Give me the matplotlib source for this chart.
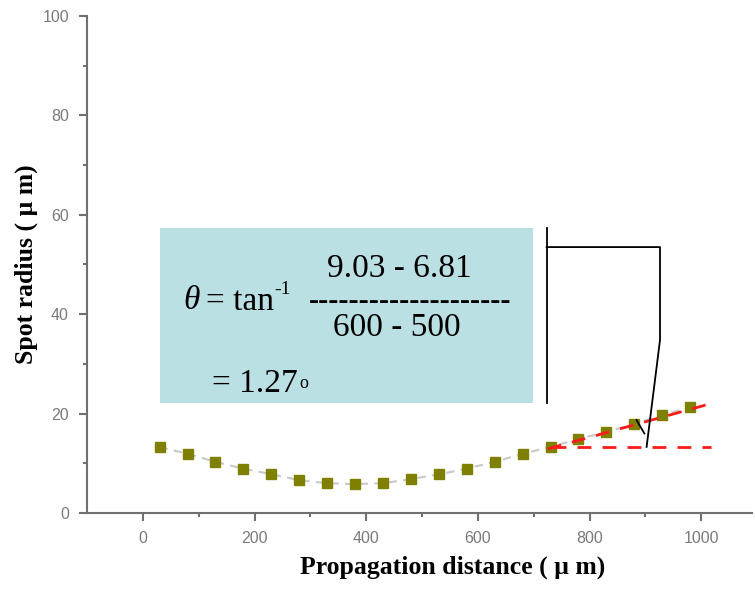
import numpy as np
import matplotlib
matplotlib.use('Agg')
import matplotlib.pyplot as plt

# datos
dist = [30, 80, 130, 180, 230, 280, 330, 380, 430, 480,
        530, 580, 630, 680, 730, 780, 830, 880, 930, 980]
radio = [13.3, 11.9, 10.3, 8.9, 7.8, 6.6, 6.0, 5.8, 6.0, 6.8,
         7.8, 8.9, 10.3, 11.9, 13.3, 14.9, 16.3, 17.9, 19.7, 21.3]

# rectas rojas del angulo
pend_x = [725, 1020]
pend_y = [12.9, 22.1]
horiz_x = [732, 1018]
horiz_y = [13.3, 13.3]

# linea negra que señala el angulo
flecha_x = [723, 723, 723, 926, 926, 902]
flecha_y = [57.3, 22.1, 53.5, 53.5, 34.8, 13.3]

fig = plt.figure(figsize=(7.55, 5.91), dpi=100)
ax = fig.add_axes([0.1152, 0.132, 0.8803, 0.841])

gris = '#707070'
ax.plot(dist, radio, linestyle=(0, (4, 3)), color='#c8c8c8', lw=1.5, zorder=2)
ax.plot(dist, radio, linestyle='none', marker='s', ms=6.5, color='#808000',
        mec='#808000', zorder=3)

ax.plot(pend_x, pend_y, color='#ff1a1a', lw=2, dashes=(5, 4), zorder=4)
ax.plot(horiz_x, horiz_y, color='#ff1a1a', lw=2, dashes=(5, 4), zorder=4)

# recuadro con la formula
ax.add_patch(plt.Rectangle((30, 22.1), 668, 35.2, facecolor='#bbe0e4',
                           edgecolor='none', zorder=1))
ax.plot(flecha_x[:2], flecha_y[:2], color='black', lw=1.3, zorder=5)
ax.plot(flecha_x[2:], flecha_y[2:], color='black', lw=1.3, zorder=5)
ax.plot([884, 898], [18.7, 16.0], color='black', lw=1.3, zorder=5)

serif = 'Liberation Serif'
ax.text(72, 42.8, '\u03b8', fontsize=24, family=serif,
        style='italic', va='center', ha='left', zorder=6)
ax.text(114, 42.6, '= tan', fontsize=24, family=serif, va='center', ha='left', zorder=6)
ax.text(236, 45.0, '-1', fontsize=14, family=serif, va='center', ha='left', zorder=6)
ax.text(460, 49.2, '9.03 - 6.81', fontsize=24, family=serif, va='center',
        ha='center', zorder=6)
ax.text(478, 42.6, '--------------------', fontsize=22, family=serif,
        fontweight='bold', va='center', ha='center', zorder=6)
ax.text(455, 37.3, '600 - 500', fontsize=24, family=serif, va='center',
        ha='center', zorder=6)
ax.text(123, 26.0, '= 1.27', fontsize=24, family=serif, va='center', ha='left', zorder=6)
ax.text(280, 27.8, 'o', fontsize=13, family=serif, va='top', ha='left', zorder=6)

ax.set_xlim(-100, 1090)
ax.set_ylim(0, 100)
ax.set_xticks([0, 200, 400, 600, 800, 1000])
ax.set_xticks(np.arange(100, 1001, 200), minor=True)
ax.set_yticks([0, 20, 40, 60, 80, 100])
ax.set_yticks(np.arange(10, 100, 20), minor=True)

for lado in ['top', 'right']:
    ax.spines[lado].set_visible(False)
for lado in ['left', 'bottom']:
    ax.spines[lado].set_color(gris)
    ax.spines[lado].set_linewidth(1.5)

ax.tick_params(which='major', direction='out', length=6, width=1.5, color=gris,
               labelsize=11.5, labelcolor='#7a7a7a', pad=7)
ax.tick_params(which='minor', direction='out', length=3, width=1.5, color=gris)
for lab in ax.get_xticklabels() + ax.get_yticklabels():
    lab.set_family('Liberation Sans')

ax.set_xlabel('Propagation distance ( \u03bc m)', fontsize=18.5, family=serif,
              fontweight='bold')
ax.xaxis.set_label_coords(0.55, -0.085)
ax.set_ylabel('Spot radius ( \u03bc m)', fontsize=18.5, family=serif,
              fontweight='bold', labelpad=3)

fig.savefig('out.png', dpi=100)
